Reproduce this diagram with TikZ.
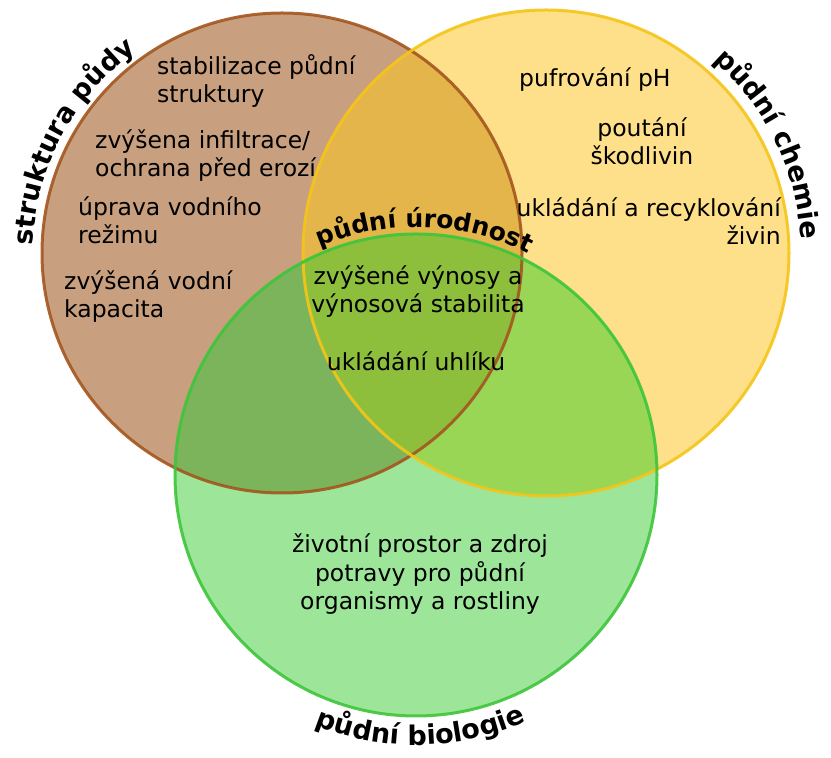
\documentclass[tikz,border=0pt]{standalone}
\usepackage{fontspec}
\setmainfont{DejaVu Sans}
\usetikzlibrary{decorations.text}

\definecolor{soilfill}{HTML}{C9A07F}
\definecolor{soilline}{HTML}{A3561E}
\definecolor{chemfill}{HTML}{FEE08A}
\definecolor{chemline}{HTML}{F5C518}
\definecolor{biofill}{HTML}{9CE599}
\definecolor{bioline}{HTML}{3DC53A}
\definecolor{soilchem}{HTML}{E4B54B}
\definecolor{soilbio}{HTML}{7BB45B}
\definecolor{chembio}{HTML}{99D656}
\definecolor{allthree}{HTML}{8DBF3D}

\tikzset{
  blurb/.style={inner sep=0pt, font=\fontsize{23.5}{28.5}\selectfont},
  ring/.style={line width=3pt, opacity=.9},
  arclabel/.style 2 args={decorate, decoration={text along path, text align=center, text={|\fontsize{#1}{30}\selectfont\bfseries|#2}}}
}

\begin{document}
\begin{tikzpicture}[x=1pt,y=1pt]
  \useasboundingbox (0,0) rectangle (831,758);
  \coordinate (soil) at (282,505);
  \coordinate (chem) at (546,505);
  \coordinate (bio) at (416,283);
  \def\rs{240} \def\rc{243} \def\rb{241}
  % circles
  \fill[soilfill] (soil) circle[radius=\rs];
  \fill[chemfill] (chem) circle[radius=\rc];
  \fill[biofill] (bio) circle[radius=\rb];
  % overlaps
  \begin{scope}
    \clip (soil) circle[radius=\rs];
    \fill[soilchem] (chem) circle[radius=\rc];
    \fill[soilbio] (bio) circle[radius=\rb];
  \end{scope}
  \begin{scope}
    \clip (chem) circle[radius=\rc];
    \fill[chembio] (bio) circle[radius=\rb];
  \end{scope}
  \begin{scope}
    \clip (soil) circle[radius=\rs];
    \clip (chem) circle[radius=\rc];
    \fill[allthree] (bio) circle[radius=\rb];
  \end{scope}
  \draw[ring, soilline] (soil) circle[radius=\rs];
  \draw[ring, chemline] (chem) circle[radius=\rc];
  \draw[ring, bioline] (bio) circle[radius=\rb];

  % labels along the circles
  \path[arclabel={27}{struktura půdy}] (soil) ++(185:249) arc[start angle=185, end angle=119, radius=249];
  \path[arclabel={27}{půdní chemie}] (chem) ++(59:255) arc[start angle=59, end angle=-7, radius=255];
  \path[arclabel={25}{půdní úrodnost}] (bio) ++(122:248) arc[start angle=122, end angle=54, radius=248];
  \path[arclabel={27}{půdní biologie}] (bio) ++(236:270) arc[start angle=236, end angle=306, radius=270];

  % texts (anchored at the last line)
  \node[blurb, anchor=base west, align=left] (stab) at (157,655) {stabilizace půdní\\struktury};
  \node[blurb, anchor=base west, align=left] (infil) at (95,581) {zvýšena infiltrace/\\ochrana před erozí};
  \node[blurb, anchor=base west, align=left] (water) at (78,514) {úprava vodního\\režimu};
  \node[blurb, anchor=base west, align=left] (capac) at (64,440) {zvýšená vodní\\kapacita};
  \node[blurb, anchor=base west] (pufr) at (519,671) {pufrování pH};
  \node[blurb, anchor=base, align=center] (pout) at (642,593) {poutání\\škodlivin};
  \node[blurb, anchor=base east, align=right] (nutr) at (781,513) {ukládání a recyklování\\živin};
  \node[blurb, anchor=base, align=center] (yield) at (418,445) {zvýšené výnosy a\\výnosová stabilita};
  \node[blurb, anchor=base] (carbon) at (416,387) {ukládání uhlíku};
  \node[blurb, anchor=base, align=center] (habitat) at (420,148) {životní prostor a zdroj\\potravy pro půdní\\organismy a rostliny};
\end{tikzpicture}
\end{document}
